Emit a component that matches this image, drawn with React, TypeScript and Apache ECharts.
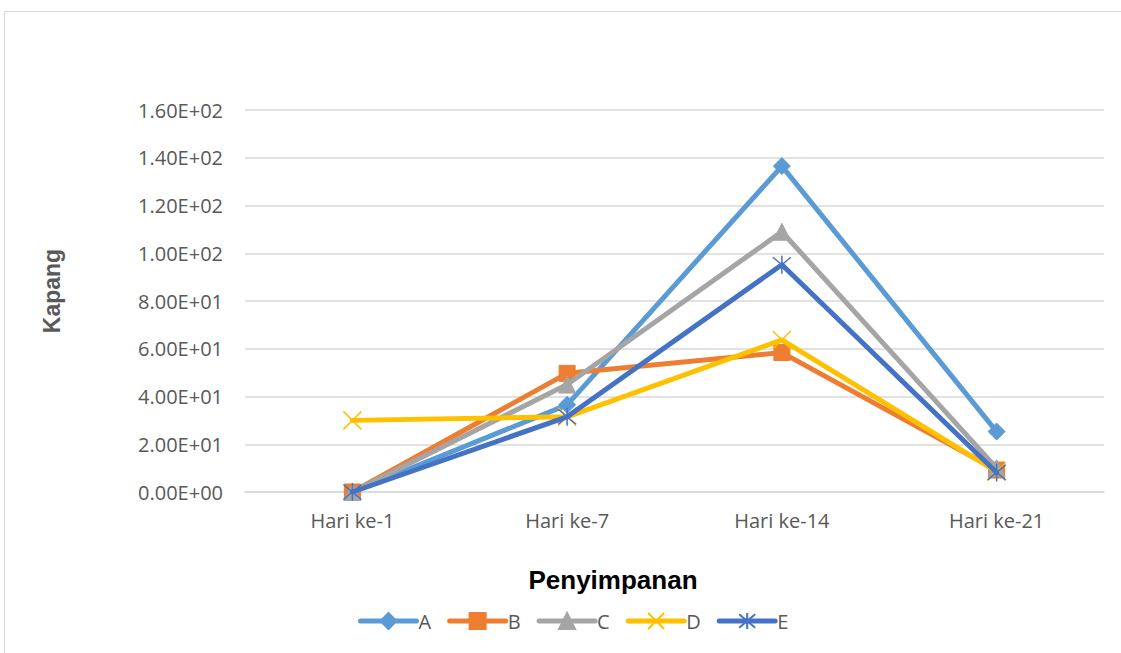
import React, { useEffect, useRef } from "react";
import * as echarts from "echarts";

const categories = ["Hari ke-1", "Hari ke-7", "Hari ke-14", "Hari ke-21"];
const seriesNames = ["A", "B", "C", "D", "E"];
const valuesA = [0, 36.5, 136.5, 25.3];
const valuesB = [0, 49.7, 58.4, 9.2];
const valuesC = [0, 45, 109, 10];
const valuesD = [30, 31.5, 63.7, 8.5];
const valuesE = [0, 31.5, 95.2, 8.2];
const colors = ["#5B9BD5", "#ED7D31", "#A5A5A5", "#FFC000", "#4472C4"];
const yAxisTitle = "Kapang";
const xAxisTitle = "Penyimpanan";

const X_PATH = "path://M0 0L10 10M10 0L0 10";
const STAR_PATH = "path://M0 0L10 10M10 0L0 10M5 -1L5 11";

function sci(v: number): string {
  if (v === 0) return "0.00E+00";
  const e = Math.floor(Math.log10(Math.abs(v)));
  const m = v / Math.pow(10, e);
  const sign = e < 0 ? "-" : "+";
  const ae = Math.abs(e);
  return m.toFixed(2) + "E" + sign + (ae < 10 ? "0" + ae : String(ae));
}

export default function App() {
  const ref = useRef<HTMLDivElement>(null);
  useEffect(() => {
    document.body.style.margin = "0";
    const chart = echarts.init(ref.current!, null, { renderer: "svg" });
    const all = [valuesA, valuesB, valuesC, valuesD, valuesE];
    const symbols = ["diamond", "rect", "triangle", X_PATH, STAR_PATH];
    const sizes = [17, 16, 17, 18, 18];
    const series = all.map((vals, i) => {
      const stroke = i >= 3;
      return {
        name: seriesNames[i],
        type: "line",
        data: vals,
        symbol: symbols[i],
        symbolSize: sizes[i],
        showAllSymbol: true,
        lineStyle: { width: 5, color: colors[i], cap: "round", join: "round" },
        itemStyle: stroke
          ? { color: "rgba(0,0,0,0)", borderColor: colors[i], borderWidth: 1.5 }
          : { color: colors[i], borderColor: colors[i], borderWidth: 1 },
        emphasis: { disabled: true },
        z: 2 + i,
      };
    });
    chart.setOption({
      animation: false,
      textStyle: { fontFamily: "Open Sans" },
      grid: { left: 245, right: 17, top: 110, bottom: 161, containLabel: false },
      xAxis: {
        type: "category",
        data: categories,
        boundaryGap: true,
        axisLine: { lineStyle: { color: "#D9D9D9", width: 1.5 } },
        axisTick: { show: false },
        axisLabel: { color: "#595959", fontSize: 20, margin: 18, fontFamily: "Open Sans" },
      },
      yAxis: {
        type: "value",
        min: 0,
        max: 160,
        interval: 20,
        axisLine: { show: false },
        axisTick: { show: false },
        splitLine: { lineStyle: { color: "#D9D9D9", width: 1.5 } },
        axisLabel: {
          color: "#595959",
          fontSize: 20,
          margin: 22,
          fontFamily: "Open Sans",
          formatter: (v: number) => sci(v),
        },
      },
      legend: {
        left: 358,
        top: 611,
        padding: 0,
        itemWidth: 56,
        itemHeight: 20,
        itemGap: 16,
        lineStyle: { width: 5, cap: "round" },
        textStyle: { color: "#595959", fontSize: 20, fontFamily: "Open Sans", padding: [0, 0, 0, -3] },
        data: seriesNames.map((n) => ({ name: n })),
      },
      graphic: [
        {
          type: "rect",
          shape: { x: 4.5, y: 11.5, width: 1200, height: 800 },
          style: { fill: "none", stroke: "#D9D9D9", lineWidth: 1 },
          silent: true,
        },
        {
          type: "text",
          x: 52,
          y: 291,
          rotation: Math.PI / 2,
          style: {
            text: yAxisTitle,
            fill: "#595959",
            font: "bold 23px 'Liberation Sans'",
            align: "center",
            verticalAlign: "middle",
          },
        },
        {
          type: "text",
          x: 613,
          y: 580,
          style: {
            text: xAxisTitle,
            fill: "#000000",
            font: "bold 26px 'Liberation Sans'",
            align: "center",
            verticalAlign: "middle",
          },
        },
      ],
      series,
    });
    return () => chart.dispose();
  }, []);
  return <div ref={ref} style={{ width: 1121, height: 653 }} />;
}
